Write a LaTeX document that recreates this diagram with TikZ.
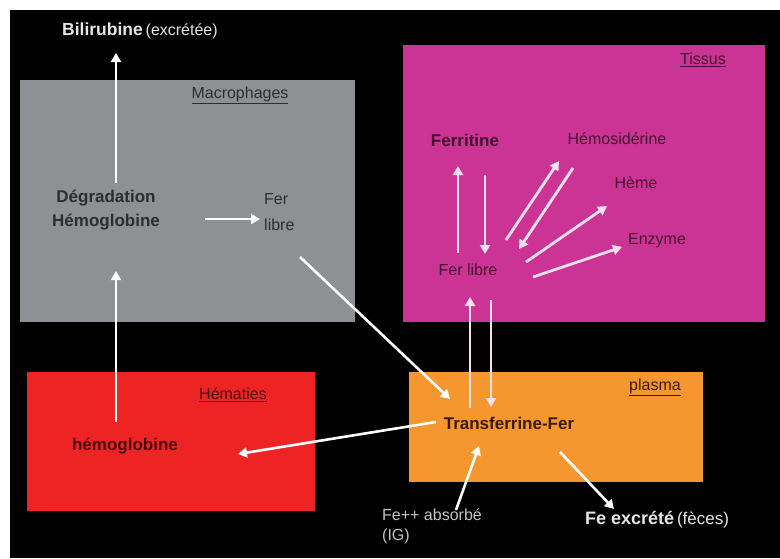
\documentclass[tikz,border=0pt]{standalone}
\usepackage{fontspec}
\setmainfont{Liberation Sans}
\usetikzlibrary{arrows.meta}
\definecolor{macgray}{HTML}{8E9094}
\definecolor{tismag}{HTML}{CB3395}
\definecolor{hemred}{HTML}{EE2424}
\definecolor{plaor}{HTML}{F5962F}
\definecolor{darkgray}{HTML}{2E2E30}
\definecolor{darkmag}{HTML}{45102F}
\definecolor{darkred}{HTML}{4A0808}
\definecolor{darkor}{HTML}{3A1A00}
\definecolor{lightw}{HTML}{E6E6E6}
\definecolor{pinkw}{HTML}{F8E0F0}
\tikzset{
  zone/.style={draw=none},
  lbl/.style={inner sep=0pt, font=\fontsize{16}{20}\selectfont},
  blbl/.style={inner sep=0pt, font=\fontsize{17}{24}\selectfont\bfseries},
  arr/.style={draw=white, line width=2.6pt, -{Triangle[length=9pt,width=10pt]}},
  parr/.style={arr, draw=pinkw, line width=2.8pt}
}
\begin{document}
\begin{tikzpicture}[x=1pt,y=-1pt]
\useasboundingbox (0,0) rectangle (780,558);
\fill[white] (0,0) rectangle (780,558);
\fill[black] (10,10) rectangle (780,558);
% zones
\fill[macgray] (20,80) rectangle (355,322);
\fill[tismag] (403,45) rectangle (765,322);
\fill[hemred] (27,372) rectangle (315,511);
\fill[plaor] (409,372) rectangle (703,482);
% zone titles
\node[lbl, text=darkgray] (tmac) at (240,95) {\underline{Macrophages}};
\node[lbl, text=darkmag] (ttis) at (703,60) {\underline{Tissus}};
\node[lbl, text=darkred] (themat) at (233,395) {\underline{Hématies}};
\node[lbl, text=darkor] (tpla) at (655,387) {\underline{plasma}};
% texts
\node[inner sep=0pt, text=lightw, anchor=west] (bili) at (62,31) {{\fontsize{17.5}{20}\selectfont\bfseries Bilirubine} {\fontsize{16}{18}\selectfont (excrétée)}};
\node[blbl, text=darkgray, align=center] (degr) at (106,210) {Dégradation\\Hémoglobine};
\node[lbl, text=darkgray, align=left, anchor=west, font=\fontsize{16}{26}\selectfont] (ferm) at (264,212) {Fer\\libre};
\node[blbl, text=darkred] (hemo) at (125,446) {hémoglobine};
\node[blbl, text=darkor] (trans) at (509,423) {Transferrine-Fer};
\node[blbl, text=darkmag] (ferri) at (465,140) {Ferritine};
\node[lbl, text=darkmag] (hemos) at (617,139) {Hémosidérine};
\node[lbl, text=darkmag] (heme) at (636,183) {Hème};
\node[lbl, text=darkmag] (enz) at (657,241) {Enzyme};
\node[lbl, text=darkmag] (fert) at (468,270) {Fer libre};
\node[lbl, text=lightw!85!black, align=left, anchor=north west] (abs) at (382,509) {Fe++ absorbé\\(IG)};
\node[inner sep=0pt, text=lightw, anchor=west] (excr) at (585,520) {{\fontsize{18}{20}\selectfont\bfseries Fe excrété} {\fontsize{17}{18}\selectfont (fèces)}};
% arrow end points
\coordinate (a1s) at (116,183); \coordinate (a1e) at (116,53);
\coordinate (a2s) at (205,219); \coordinate (a2e) at (260,219);
\coordinate (a3s) at (300,257); \coordinate (a3e) at (450,399);
\coordinate (a4s) at (116,422); \coordinate (a4e) at (116,271);
\coordinate (a5s) at (436,422); \coordinate (a5e) at (238,454);
\coordinate (a6s) at (470,408); \coordinate (a6e) at (470,297);
\coordinate (a7s) at (491,300); \coordinate (a7e) at (491,407);
\coordinate (a8s) at (456,510); \coordinate (a8e) at (479,446);
\coordinate (a9s) at (560,452); \coordinate (a9e) at (614,509);
\coordinate (b1s) at (458,253); \coordinate (b1e) at (458,166);
\coordinate (b2s) at (485,175); \coordinate (b2e) at (485,254);
\coordinate (b3s) at (506,240); \coordinate (b3e) at (559,161);
\coordinate (b4s) at (573,168); \coordinate (b4e) at (519,249);
\coordinate (b5s) at (526,262); \coordinate (b5e) at (607,206);
\coordinate (b6s) at (533,277); \coordinate (b6e) at (622,247);
% arrows
\draw[arr] (a1s) -- (a1e);
\draw[arr] (a2s) -- (a2e);
\draw[arr] (a3s) -- (a3e);
\draw[arr] (a4s) -- (a4e);
\draw[arr] (a5s) -- (a5e);
\draw[parr] (a6s) -- (a6e);
\draw[parr] (a7s) -- (a7e);
\draw[arr] (a8s) -- (a8e);
\draw[arr] (a9s) -- (a9e);
\draw[parr] (b1s) -- (b1e);
\draw[parr] (b2s) -- (b2e);
\draw[parr] (b3s) -- (b3e);
\draw[parr] (b4s) -- (b4e);
\draw[parr] (b5s) -- (b5e);
\draw[parr] (b6s) -- (b6e);
\end{tikzpicture}
\end{document}
